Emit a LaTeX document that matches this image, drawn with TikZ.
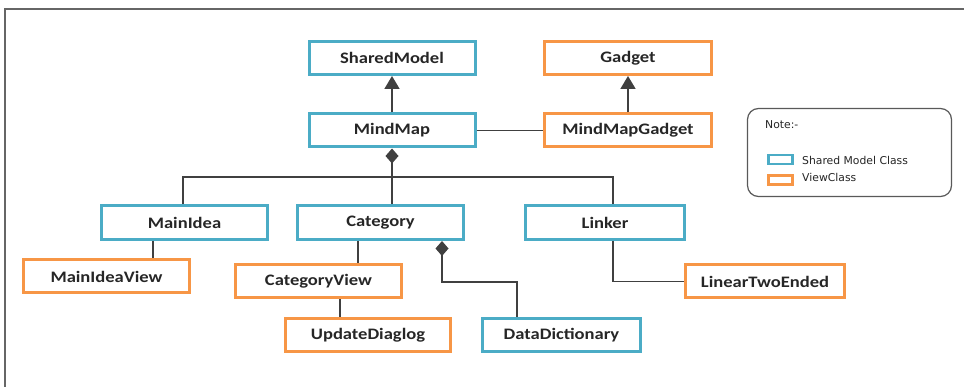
\documentclass[tikz,border=0pt]{standalone}
\usepackage{fontspec}
\setmainfont[FakeStretch=1.16]{Carlito}
\newfontfamily\notefont{DejaVu Sans}
\usetikzlibrary{arrows.meta}
\definecolor{modelblue}{HTML}{4BACC6}
\definecolor{vieworange}{HTML}{F79646}
\definecolor{ink}{HTML}{262626}
\definecolor{wire}{HTML}{404040}
\tikzset{
  classbox/.style={draw, line width=3pt, fill=white, inner sep=0pt,
    minimum height=33pt, font=\fontsize{16}{18}\selectfont\bfseries, text=ink},
  modelbox/.style={classbox, draw=modelblue},
  viewbox/.style={classbox, draw=vieworange},
  wireline/.style={draw=wire, line width=1.8pt},
  inherit/.style={wireline, -{Triangle[width=15pt,length=13pt]}},
  compose/.style={wireline, {Diamond[width=13pt,length=15pt]}-},
  swatch/.style={draw, line width=2.4pt, fill=white, minimum width=24pt, minimum height=9pt, inner sep=0pt},
  notetext/.style={font=\notefont\fontsize{10.8}{12}\selectfont, text=ink, inner sep=0pt, anchor=west}
}
\begin{document}
\begin{tikzpicture}[x=1pt, y=-1pt]
\useasboundingbox[fill=white] (0,0) rectangle (964,387);
% page frame, top and left edges
\draw[draw=gray!80!black, line width=1.4pt] (5,387) -- (5,9) -- (964,9);

% classes
\node[modelbox, minimum width=166pt] (shared) at (392,58) {SharedModel};
\node[viewbox,  minimum width=167pt] (gadget) at (628,58) {Gadget};
\node[modelbox, minimum width=166pt] (mindmap) at (392,130.5) {MindMap};
\node[viewbox,  minimum width=167pt] (mmgadget) at (628,130.5) {MindMapGadget};
\node[modelbox, minimum width=166pt, minimum height=34pt] (mainidea) at (184.5,222.5) {MainIdea};
\node[modelbox, minimum width=166pt, minimum height=34pt] (category) at (380.5,222.5) {Category};
\node[modelbox, minimum width=159pt, minimum height=34pt] (linker) at (605,222.5) {Linker};
\node[viewbox,  minimum width=166pt] (mainview) at (106.5,276.5) {MainIdeaView};
\node[viewbox,  minimum width=166pt] (catview) at (318.5,281.5) {CategoryView};
\node[viewbox,  minimum width=165pt] (update) at (368,335) {UpdateDiaglog};
\node[modelbox, minimum width=158pt] (datadict) at (561.5,335) {DataDictionary};
\node[viewbox,  minimum width=159pt] (linear) at (765,281.5) {LinearTwoEnded};

% inheritance
\draw[inherit] (mindmap.north) -- (shared.south);
\draw[inherit] (mmgadget.north) -- (gadget.south);
\draw[wireline] (mindmap.east) -- (mmgadget.west);

% composition of MindMap
\coordinate (bus) at (0,177);
\draw[compose] (mindmap.south) -- (mindmap.south |- category.north);
\draw[wireline] ([xshift=-1.5pt]mainidea.north) |- (bus -| linker.north) -- ([xshift=8pt]linker.north |- bus) -- ([xshift=8pt]linker.north);

% views
\draw[wireline] ([xshift=-31.5pt]mainidea.south) -- ([xshift=-31.5pt]mainidea.south |- mainview.north);
\draw[wireline] ([xshift=-22.5pt]category.south) -- ([xshift=-22.5pt]category.south |- catview.north);
\draw[wireline] ([xshift=21.5pt]catview.south) -- ([xshift=21.5pt]catview.south |- update.north);
\draw[compose] ([xshift=61.5pt]category.south) -- ++(0,41) -| ([xshift=-44.5pt]datadict.north);
\draw[wireline] ([xshift=8pt]linker.south) |- (linear.west);

% legend
\node[draw=gray!70!black, line width=1.2pt, rounded corners=11pt, minimum width=204pt, minimum height=88pt, inner sep=0pt] (note) at (849.5,152.5) {};
\node[notetext] (notehead) at (765,125) {Note:-};
\node[swatch, draw=modelblue] (sw1) at (780.5,159.5) {};
\node[swatch, draw=vieworange] (sw2) at (780.5,180) {};
\node[notetext] (lab1) at (802,160) {Shared Model Class};
\node[notetext] (lab2) at (802,177) {ViewClass};
\end{tikzpicture}
\end{document}
